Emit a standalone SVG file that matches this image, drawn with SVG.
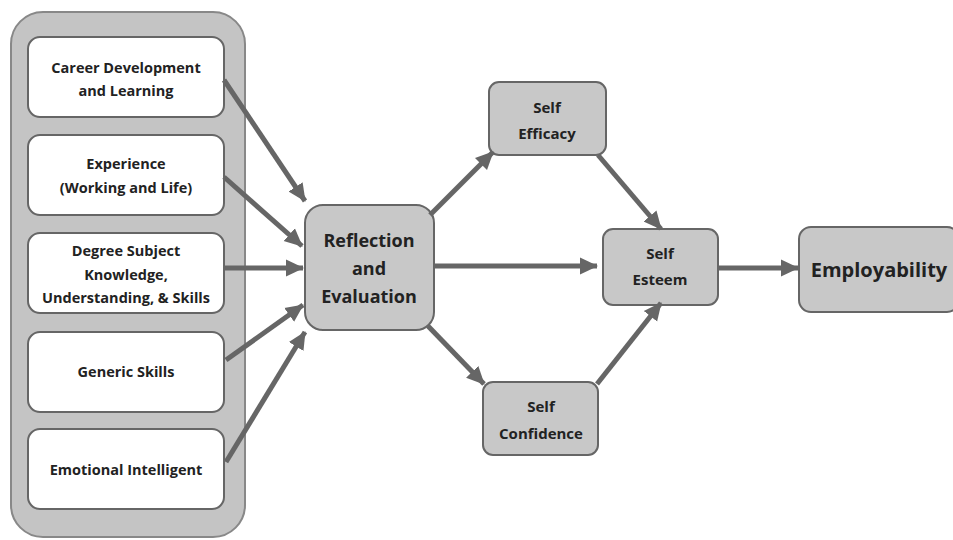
<svg xmlns="http://www.w3.org/2000/svg" width="953" height="540" viewBox="0 0 953 540">
<defs>
<marker id="ah" markerUnits="userSpaceOnUse" markerWidth="19" markerHeight="19" viewBox="0 0 19 19" refX="17" refY="9.5" orient="auto">
<path d="M0,1 L18,9.5 L0,18 Z" fill="#666"/>
</marker>
</defs>
<style>
.w{fill:#fff;stroke:#666;stroke-width:2}
.g{fill:#c8c8c8;stroke:#666;stroke-width:2}
.t{font-family:"Open Sans","Liberation Sans",sans-serif;font-weight:bold;fill:#222;text-anchor:middle}
.s{font-size:14.5px}
.m{font-size:15px}
.c line{stroke:#666;stroke-width:5;marker-end:url(#ah)}
</style>
<rect width="953" height="540" fill="#fff"/>
<g id="container"><rect x="11" y="12" width="234" height="525" rx="32" fill="#c4c4c4" stroke="#888" stroke-width="2"/></g>
<g id="n1"><rect class="w" x="28" y="37" width="196" height="80" rx="12"/><text class="t s" x="126" y="73">Career Development</text><text class="t s" x="126" y="96">and Learning</text></g>
<g id="n2"><rect class="w" x="28" y="135" width="196" height="80" rx="12"/><text class="t s" x="126" y="169">Experience</text><text class="t s" x="126" y="193">(Working and Life)</text></g>
<g id="n3"><rect class="w" x="28" y="233" width="196" height="80" rx="12"/><text class="t s" x="126" y="256">Degree Subject</text><text class="t s" x="126" y="280">Knowledge,</text><text class="t s" x="126" y="303">Understanding, &amp; Skills</text></g>
<g id="n4"><rect class="w" x="28" y="332" width="196" height="80" rx="12"/><text class="t s" x="126" y="377">Generic Skills</text></g>
<g id="n5"><rect class="w" x="28" y="429" width="196" height="80" rx="12"/><text class="t s" x="126" y="475">Emotional Intelligent</text></g>
<g id="reflection"><rect class="g" x="305" y="205" width="129" height="125" rx="18"/><text class="t" font-size="18" x="369" y="247">Reflection</text><text class="t" font-size="18" x="369" y="275">and</text><text class="t" font-size="18" x="369" y="303">Evaluation</text></g>
<g id="efficacy"><rect class="g" x="489" y="82" width="117" height="73" rx="10"/><text class="t m" x="547" y="113">Self</text><text class="t m" x="547" y="139">Efficacy</text></g>
<g id="confidence"><rect class="g" x="483" y="382" width="115" height="73" rx="10"/><text class="t m" x="541" y="412">Self</text><text class="t m" x="541" y="439">Confidence</text></g>
<g id="esteem"><rect class="g" x="603" y="229" width="115" height="76" rx="10"/><text class="t m" x="660" y="259">Self</text><text class="t m" x="660" y="285">Esteem</text></g>
<g id="employability"><rect class="g" x="799" y="227" width="160" height="85" rx="12"/><text class="t" font-size="20" x="879" y="277">Employability</text></g>
<g id="connectors" class="c">
<line x1="224" y1="80" x2="305" y2="201"/>
<line x1="224" y1="177" x2="302" y2="246"/>
<line x1="224" y1="268" x2="303" y2="268"/>
<line x1="226" y1="360" x2="303" y2="305"/>
<line x1="226" y1="462" x2="305" y2="332"/>
<line x1="430" y1="215" x2="493" y2="152"/>
<line x1="434" y1="266" x2="597" y2="266"/>
<line x1="428" y1="326" x2="484" y2="384"/>
<line x1="598" y1="155" x2="661" y2="229"/>
<line x1="597" y1="384" x2="661" y2="303"/>
<line x1="718" y1="268" x2="798" y2="268"/>
</g>
</svg>
